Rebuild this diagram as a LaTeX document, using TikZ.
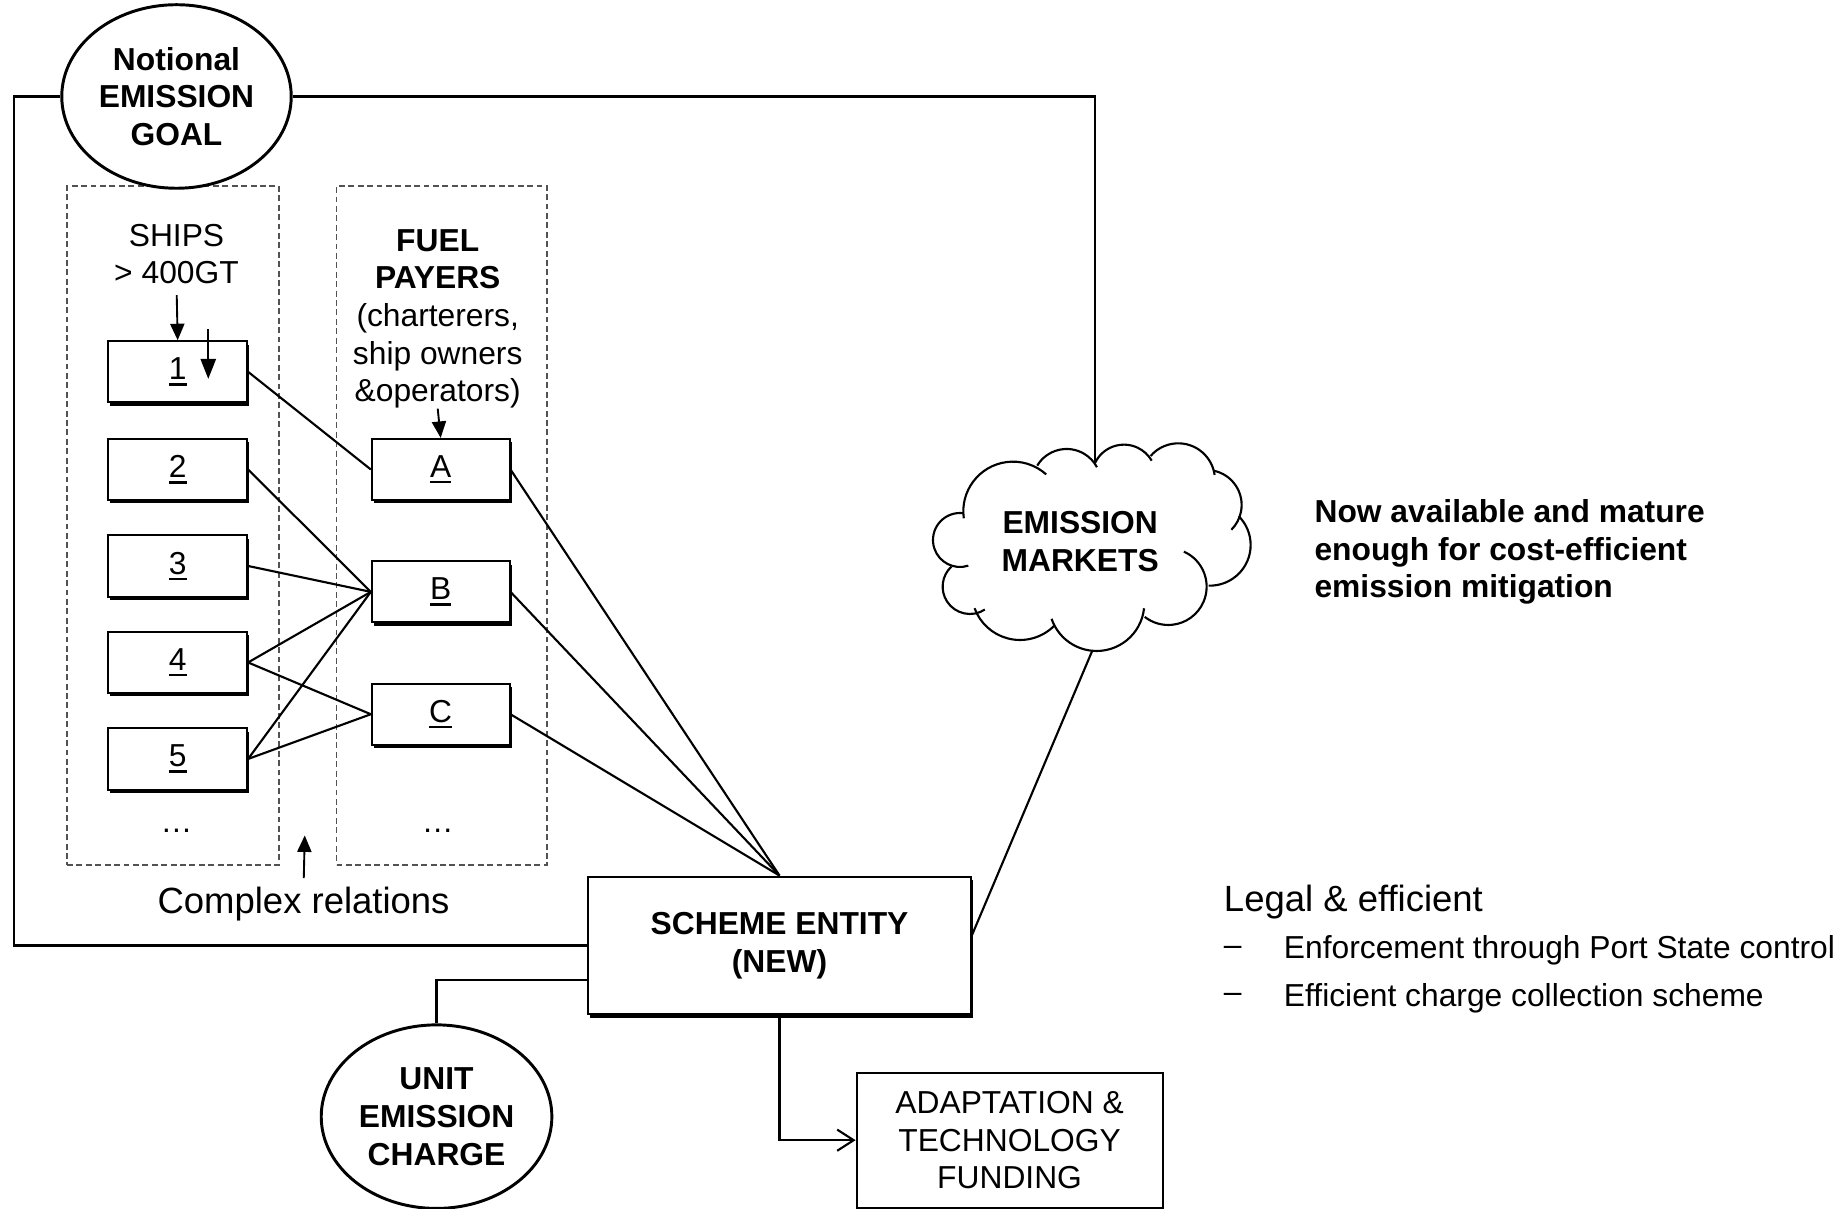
\documentclass[tikz,border=0pt]{standalone}
\usepackage{fontspec}
\setmainfont{Liberation Sans}
\usetikzlibrary{shapes.geometric,arrows.meta,shadows,calc}
\newsavebox{\ulbox}
\newcommand{\ulx}[1]{\sbox{\ulbox}{#1}\rlap{\rule[-5pt]{\wd\ulbox}{2pt}}\usebox{\ulbox}}
\begin{document}
\begin{tikzpicture}[x=1pt,y=-1pt,
  font=\fontsize{27}{32}\selectfont,
  conn/.style={line width=1.8pt},
  shbox/.style={draw, line width=1.7pt, fill=white, minimum width=118pt, minimum height=52pt, inner sep=0pt,
    drop shadow={shadow xshift=1.8pt, shadow yshift=-2.8pt, fill=black, opacity=1}},
  dbox/.style={draw=black!68, dash pattern=on 5pt off 3pt, line width=1.5pt},
  oval/.style={ellipse, draw, line width=2.5pt, fill=white, minimum width=195pt, minimum height=156pt, inner sep=0pt,
    align=center, font=\fontsize{27}{32}\selectfont\bfseries},
  arr/.style={line width=1.6pt, -{Triangle[length=14pt,width=12pt]}},
  openarr/.style={line width=1.8pt, -{Straight Barb[length=14pt,width=18pt,line width=1.8pt]}},
  txt/.style={inner sep=0pt, align=center},
  bigtxt/.style={inner sep=0pt, font=\fontsize{31}{36}\selectfont},
  puff/.style={line width=1.8pt},
]
\useasboundingbox (0,0) rectangle (1568,1027);
\fill[white] (0,0) rectangle (1568,1027);

% dashed groups
\node[dbox, minimum width=180pt, minimum height=577pt] (gs) at (147,446.5) {};
\node[dbox, minimum width=179pt, minimum height=577pt] (gf) at (375.5,446.5) {};

% ovals
\node[oval] (goal) at (150,82) {Notional\\EMISSION\\GOAL};
\node[oval, minimum width=196pt] (unit) at (371,949) {UNIT\\EMISSION\\CHARGE};

% ships column
\node[txt] (ships) at (150,216) {SHIPS\\> 400GT};
\node[shbox] (s1) at (151,316) {\ulx{1}};
\node[shbox] (s2) at (151,399) {\ulx{2}};
\node[shbox] (s3) at (151,481) {\ulx{3}};
\node[shbox] (s4) at (151,563) {\ulx{4}};
\node[shbox] (s5) at (151,645) {\ulx{5}};
\node[txt] (sd) at (150,706) {…};

% fuel payers column
\node[txt] (fuel) at (372,271) {\textbf{FUEL}\\\textbf{PAYERS}\\(charterers,\\ship owners\\\&operators)};
\node[shbox, minimum width=117pt] (pa) at (374.5,399) {\ulx{A}};
\node[shbox, minimum width=117pt] (pb) at (374.5,503) {\ulx{B}};
\node[shbox, minimum width=117pt] (pc) at (374.5,607) {\ulx{C}};
\node[txt] (fd) at (372,706) {…};

% scheme entity and funding
\node[shbox, minimum width=325pt, minimum height=117pt, align=center, font=\fontsize{27}{32}\selectfont\bfseries] (scheme) at (662.5,803.5) {SCHEME ENTITY\\(NEW)};
\node[draw, line width=1.7pt, fill=white, minimum width=260pt, minimum height=115pt, inner sep=0pt, align=center] (adapt) at (858,969) {ADAPTATION \&\\TECHNOLOGY\\FUNDING};

% cloud (drawn as puffs)
\begin{scope}[shift={(781.85,365.43)}, scale=0.28328]
  \draw[puff] (279,244) ++(172:149) arc[start angle=172, end angle=312, radius=149];
  \draw[puff] (440,160) ++(211:103) arc[start angle=211, end angle=332, radius=103];
  \draw[puff] (612,140) ++(205:96)  arc[start angle=205, end angle=330, radius=96];
  \draw[puff] (775,150) ++(221:110) arc[start angle=221, end angle=352, radius=110];
  \draw[puff] (860,225) ++(281:105) arc[start angle=281, end angle=405, radius=105];
  \draw[puff] (870,345) ++(315:122) arc[start angle=315, end angle=452, radius=122];
  \draw[puff] (745,470) ++(294:115) arc[start angle=294, end angle=488, radius=115];
  \draw[puff] (530,520) ++(6:143)   arc[start angle=6, end angle=161, radius=143];
  \draw[puff] (300,485) ++(45:145)  arc[start angle=45, end angle=160, radius=145];
  \draw[puff] (150,470) ++(57:82)   arc[start angle=57, end angle=227, radius=82];
  \draw[puff] (120,330) ++(72:81)   arc[start angle=72, end angle=277, radius=81];
  \coordinate (mkttop) at (525,100);
  \coordinate (mktbot) at (517,662);
\end{scope}
\node[txt, font=\fontsize{27}{32}\selectfont\bfseries] (mkt) at (918,460) {EMISSION\\MARKETS};

% texts
\node[bigtxt] (crel) at (258,768) {Complex relations};
\node[anchor=west, align=left, inner sep=0pt, font=\fontsize{27}{32}\selectfont\bfseries] (note) at (1117,469) {Now available and mature\\enough for cost-efficient\\emission mitigation};
\node[bigtxt, anchor=west] (legal) at (1040,767) {Legal \& efficient};
\node[anchor=west, inner sep=0pt] (d1) at (1040,808) {–};
\node[anchor=west, inner sep=0pt] (e1) at (1091,808) {Enforcement through Port State control};
\node[anchor=west, inner sep=0pt] (d2) at (1040,848) {–};
\node[anchor=west, inner sep=0pt] (e2) at (1091,848) {Efficient charge collection scheme};

% relations
\draw[conn] (s1.east) -- (pa.west);
\draw[conn] (s2.east) -- (pb.west);
\draw[conn] (s3.east) -- (pb.west);
\draw[conn] (s4.east) -- (pb.west);
\draw[conn] (s4.east) -- (pc.west);
\draw[conn] (s5.east) -- (pb.west);
\draw[conn] (s5.east) -- (pc.west);
\draw[conn] (pa.east) -- (scheme.north);
\draw[conn] (pb.east) -- (scheme.north);
\draw[conn] (pc.east) -- (scheme.north);

% small arrows
\draw[arr, shorten <=9pt] (ships.south) -- (s1.north);
\coordinate (t1) at (177,280);
\coordinate (t2) at (177,322);
\draw[arr, -{Triangle[length=17pt,width=13pt]}] (t1) -- (t2);
\draw[arr] (fuel.south) -- (pa.north);
\coordinate (crtip) at (259,710);
\draw[arr, shorten <=7pt] (crel.north) -- (crtip);

% loops
\coordinate (lc) at (12,802);
\draw[conn] (scheme.west) -- (scheme.west -| lc) |- (goal.west);
\draw[conn] (goal.east) -| (mkttop);
\draw[conn] (mktbot) -- ($(scheme.north east)!0.43!(scheme.south east)$);
\draw[conn] ($(scheme.north west)!0.75!(scheme.south west)$) -| (unit.north);
\draw[openarr] (scheme.south) |- (adapt.west);
\end{tikzpicture}
\end{document}
